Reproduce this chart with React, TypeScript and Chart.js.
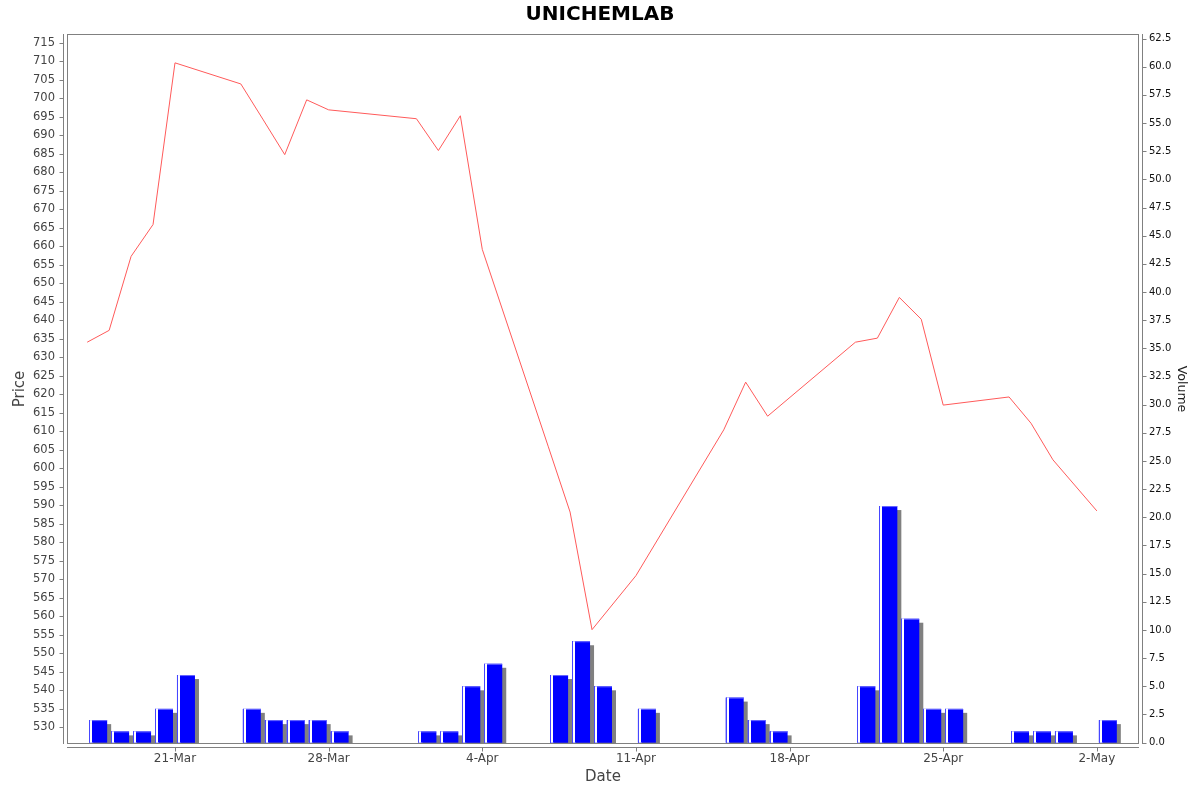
import React, { useEffect, useRef } from 'react';
import { Chart, registerables } from 'chart.js';

Chart.register(...registerables);

// trading days shown on the chart
const dates: string[] = [
  '2025-03-17', '2025-03-18', '2025-03-19', '2025-03-20', '2025-03-21',
  '2025-03-24', '2025-03-25', '2025-03-26', '2025-03-27', '2025-03-28',
  '2025-04-01', '2025-04-02', '2025-04-03', '2025-04-04',
  '2025-04-07', '2025-04-08', '2025-04-09', '2025-04-11',
  '2025-04-15', '2025-04-16', '2025-04-17',
  '2025-04-21', '2025-04-22', '2025-04-23', '2025-04-24', '2025-04-25',
  '2025-04-28', '2025-04-29', '2025-04-30', '2025-05-02',
];

const prices: number[] = [
  634.1, 637.3, 657.3, 665.9, 709.6,
  703.9, 694.4, 684.8, 699.6, 696.9,
  694.5, 685.9, 695.3, 659.2,
  606.0, 588.2, 556.4, 571.0,
  610.4, 623.3, 614.1,
  634.1, 635.2, 646.2, 640.3, 617.1,
  619.3, 612.2, 602.3, 588.5,
];

const volumes: number[] = [
  2, 1, 1, 3, 6,
  3, 2, 2, 2, 1,
  1, 1, 5, 7,
  6, 9, 5, 3,
  4, 2, 1,
  5, 21, 11, 3, 3,
  1, 1, 1, 2,
];

const tickDates: string[] = [
  '2025-03-21', '2025-03-28', '2025-04-04', '2025-04-11',
  '2025-04-18', '2025-04-25', '2025-05-02',
];
const tickLabels: string[] = ['21-Mar', '28-Mar', '4-Apr', '11-Apr', '18-Apr', '25-Apr', '2-May'];

const priceTicks: number[] = Array.from({ length: 38 }, (_, i) => 530 + i * 5);
const volumeTicks: number[] = Array.from({ length: 26 }, (_, i) => i * 2.5);

const DAY = 86400000;
const day0 = Date.parse(dates[0]);
const dayIndex = (d: string) => Math.round((Date.parse(d) - day0) / DAY);

const xMin = -0.92;
const xMax = 47.92;

const FONT = 'DejaVu Sans';
const AXIS_GRAY = '#808080';

// frame, offset axis lines and tick marks, bar shadows and highlights
const decorPlugin = {
  id: 'decor',
  beforeDatasetsDraw(chart: any) {
    const { ctx, chartArea: a, scales } = chart;
    ctx.save();
    ctx.strokeStyle = AXIS_GRAY;
    ctx.lineWidth = 1;
    ctx.strokeRect(a.left + 0.5, a.top + 0.5, a.right - a.left - 1, a.bottom - a.top - 1);

    // left axis
    const lx = a.left - 4 + 0.5;
    ctx.beginPath();
    ctx.moveTo(lx, a.top);
    ctx.lineTo(lx, a.bottom);
    scales.y.ticks.forEach((t: any) => {
      const py = Math.round(scales.y.getPixelForValue(t.value)) + 0.5;
      ctx.moveTo(lx - 4, py);
      ctx.lineTo(lx, py);
    });
    // right axis
    const rx = a.right + 3 + 0.5;
    ctx.moveTo(rx, a.top);
    ctx.lineTo(rx, a.bottom);
    scales.yv.ticks.forEach((t: any) => {
      const py = Math.round(scales.yv.getPixelForValue(t.value)) + 0.5;
      ctx.moveTo(rx, py);
      ctx.lineTo(rx + 4, py);
    });
    // bottom axis
    const by = a.bottom + 3 + 0.5;
    ctx.moveTo(a.left, by);
    ctx.lineTo(a.right, by);
    scales.x.ticks.forEach((t: any) => {
      const px = Math.round(scales.x.getPixelForValue(t.value)) + 0.5;
      ctx.moveTo(px, by);
      ctx.lineTo(px, by + 4);
    });
    ctx.stroke();
    ctx.restore();
  },
  beforeDatasetDraw(chart: any, args: any) {
    if (args.meta.type !== 'bar') return;
    const { ctx, chartArea: a } = chart;
    ctx.save();
    ctx.beginPath();
    ctx.rect(a.left, a.top, a.right - a.left, a.bottom - a.top);
    ctx.clip();
    ctx.fillStyle = AXIS_GRAY;
    args.meta.data.forEach((el: any) => {
      const { x, y, base, width } = el.getProps(['x', 'y', 'base', 'width']);
      ctx.fillRect(x - width / 2 + 4, y + 4, width, base - y);
    });
    ctx.restore();
  },
  afterDatasetDraw(chart: any, args: any) {
    if (args.meta.type !== 'bar') return;
    const { ctx } = chart;
    ctx.save();
    args.meta.data.forEach((el: any) => {
      const { x, y, base, width } = el.getProps(['x', 'y', 'base', 'width']);
      const left = Math.round(x - width / 2);
      ctx.fillStyle = '#4646ff';
      ctx.fillRect(left, y, 1, base - y);
      ctx.fillStyle = '#ffffff';
      ctx.fillRect(left + 1, y, 2, base - y);
      ctx.fillStyle = '#6a6aff';
      ctx.fillRect(left + 3, y, width - 3, 1);
    });
    ctx.restore();
  },
};

export default function App() {
  const chartRef = useRef<HTMLCanvasElement>(null);

  useEffect(() => {
    if (!chartRef.current) return;
    Chart.defaults.font.family = FONT;

    const chartInstance = new Chart(chartRef.current, {
      type: 'bar',
      data: {
        datasets: [
          {
            type: 'line',
            label: 'Price',
            data: dates.map((d, i) => ({ x: dayIndex(d), y: prices[i] })),
            xAxisID: 'x',
            yAxisID: 'y',
            borderColor: '#ff5a5a',
            borderWidth: 1,
            pointRadius: 0,
            tension: 0,
            fill: false,
            order: 0,
          },
          {
            type: 'bar',
            label: 'Volume',
            // each volume bar covers its whole trading day, so it sits at the day's midpoint
            data: dates.map((d, i) => ({ x: dayIndex(d) + 0.5, y: volumes[i] })),
            xAxisID: 'x',
            yAxisID: 'yv',
            backgroundColor: '#0000ff',
            borderWidth: 0,
            categoryPercentage: 1,
            barPercentage: 0.82,
            order: 1,
          },
        ],
      },
      options: {
        responsive: true,
        maintainAspectRatio: false,
        animation: false,
        layout: { padding: 0 },
        plugins: {
          legend: { display: false },
          tooltip: { enabled: false },
          title: {
            display: true,
            text: 'UNICHEMLAB',
            color: '#000000',
            font: { size: 20, weight: 'bold', family: FONT },
            padding: { top: 3, bottom: 7 },
          },
        },
        scales: {
          x: {
            type: 'linear',
            position: 'bottom',
            min: xMin,
            max: xMax,
            offset: false,
            grid: { display: false, drawTicks: false },
            border: { display: false },
            afterBuildTicks: (scale: any) => {
              scale.ticks = tickDates.map((d) => ({ value: dayIndex(d) }));
            },
            afterFit: (scale: any) => {
              scale.height = 48;
            },
            ticks: {
              autoSkip: false,
              maxRotation: 0,
              padding: 8,
              color: '#444444',
              font: { size: 12, family: FONT },
              callback: (value: any) => {
                const i = tickDates.findIndex((d) => dayIndex(d) === value);
                return i >= 0 ? tickLabels[i] : '';
              },
            },
            title: {
              display: true,
              text: 'Date',
              color: '#444444',
              font: { size: 15, family: FONT },
              padding: { top: 0, bottom: 6 },
            },
          },
          y: {
            type: 'linear',
            position: 'left',
            min: 525.5,
            max: 717.4,
            grid: { display: false, drawTicks: false },
            border: { display: false },
            afterBuildTicks: (scale: any) => {
              scale.ticks = priceTicks.map((v) => ({ value: v }));
            },
            afterFit: (scale: any) => {
              scale.width = 67;
            },
            ticks: {
              autoSkip: false,
              padding: 12,
              color: '#444444',
              font: { size: 11.5, family: FONT },
              callback: (value: any) => String(value),
            },
            title: {
              display: true,
              text: 'Price',
              color: '#444444',
              font: { size: 15, family: FONT },
              padding: { top: 11, bottom: 0 },
            },
          },
          yv: {
            type: 'linear',
            position: 'right',
            min: -0.12,
            max: 62.9,
            grid: { display: false, drawTicks: false },
            border: { display: false },
            afterBuildTicks: (scale: any) => {
              scale.ticks = volumeTicks.map((v) => ({ value: v }));
            },
            afterFit: (scale: any) => {
              scale.width = 61;
            },
            ticks: {
              autoSkip: false,
              padding: 10,
              color: '#111111',
              font: { size: 10, family: FONT },
              callback: (value: any) => Number(value).toFixed(1),
            },
            title: {
              display: true,
              text: 'Volume',
              color: '#222222',
              font: { size: 12.5, family: FONT },
              padding: { top: 11, bottom: 0 },
            },
          },
        },
      },
      plugins: [decorPlugin],
    });

    return () => {
      chartInstance.destroy();
    };
  }, []);

  return (
    <div
      style={{
        position: 'fixed',
        left: 0,
        top: 0,
        width: 1200,
        height: 792,
        background: '#ffffff',
      }}
    >
      <canvas ref={chartRef}></canvas>
    </div>
  );
}
